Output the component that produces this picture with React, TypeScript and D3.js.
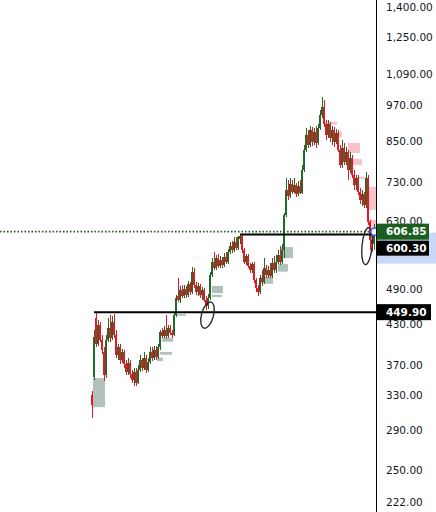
import React from "react";
import * as d3 from "d3";

const opens = [
  331, 354, 440, 399, 429, 406, 388, 356, 406, 424,
  409, 434, 414, 384, 395, 377, 388, 371, 360, 373,
  358, 350, 360, 346, 363, 377, 366, 380, 363, 374,
  388, 380, 391, 381, 395, 418, 412, 421, 412, 424,
  416, 414, 445, 477, 471, 489, 478, 491, 480, 500,
  485, 522, 498, 485, 496, 480, 489, 471, 460, 474,
  517, 542, 530, 550, 534, 546, 536, 552, 542, 563,
  576, 567, 585, 572, 590, 597, 567, 542, 554, 534,
  526, 538, 507, 493, 485, 511, 503, 530, 517, 526,
  515, 540, 526, 542, 557, 542, 567, 646, 709, 694,
  725, 704, 722, 699, 720, 701, 764, 823, 870, 838,
  886, 848, 880, 845, 892, 935, 966, 904, 870, 904,
  861, 886, 848, 877, 823, 778, 829, 786, 817, 764,
  799, 750, 722, 742, 704, 683, 699, 670, 742, 629,
  589, 580,
];
const highs = [
  335, 421, 449.9, 437, 434, 414, 395, 414, 440, 445,
  444, 447, 421, 399, 399, 393, 391, 377, 380, 377,
  363, 366, 366, 370, 384, 380, 388, 384, 380, 395,
  395, 397, 397, 400, 421, 424, 428, 445, 429, 429,
  421, 448, 479, 511, 496, 498, 498, 496, 505, 503,
  532, 530, 503, 502, 500, 494, 493, 478, 481, 522,
  550, 562, 557, 559, 554, 552, 561, 563, 569, 585,
  587, 594, 594, 598, 600.3, 599, 572, 559, 559, 540,
  542, 542, 511, 498, 517, 526, 550, 536, 534, 540,
  550, 554, 557, 567, 576, 580, 651, 741, 736, 741,
  736, 741, 728, 733, 736, 778, 838, 892, 886, 898,
  895, 892, 898, 904, 955, 1000, 991, 920, 920, 913,
  898, 895, 889, 886, 838, 854, 845, 832, 823, 817,
  808, 764, 750, 750, 715, 709, 704, 758, 750, 634,
  598, 624,
];
const lows = [
  304, 350, 395, 396, 403, 385, 348, 352, 403, 403,
  406, 409, 380, 377, 371, 373, 366, 356, 356, 352,
  346, 342, 342, 344, 360, 362, 363, 359, 360, 371,
  375, 377, 377, 378, 391, 409, 409, 407, 409, 414,
  409, 412, 442, 467, 466, 475, 475, 475, 476, 480,
  482, 493, 480, 478, 475, 471, 467, 454, 456, 471,
  513, 526, 526, 530, 530, 530, 532, 538, 538, 559,
  561, 563, 567, 567, 580, 561, 538, 536, 530, 520,
  520, 501, 485, 478, 482, 496, 500, 511, 511, 511,
  511, 520, 520, 538, 536, 538, 550, 640, 683, 688,
  699, 701, 691, 694, 699, 699, 758, 817, 829, 832,
  835, 838, 829, 838, 886, 926, 895, 854, 860, 848,
  838, 832, 841, 817, 770, 770, 778, 778, 736, 756,
  742, 709, 709, 696, 673, 668, 663, 663, 621, 567,
  563, 567,
];
const closes = [
  319, 410, 399, 429, 406, 391, 356, 406, 424, 409,
  434, 414, 384, 395, 377, 388, 371, 360, 373, 358,
  350, 360, 346, 363, 377, 366, 380, 363, 374, 388,
  380, 391, 381, 395, 418, 412, 421, 412, 424, 416,
  414, 445, 474, 471, 489, 478, 491, 480, 500, 485,
  522, 498, 485, 496, 480, 489, 471, 460, 474, 517,
  542, 530, 550, 534, 546, 536, 552, 542, 563, 576,
  567, 585, 572, 594, 597, 567, 542, 554, 534, 526,
  538, 507, 493, 485, 511, 503, 530, 517, 526, 515,
  540, 526, 542, 557, 542, 567, 646, 709, 694, 725,
  704, 722, 699, 720, 701, 764, 823, 870, 838, 886,
  848, 880, 845, 892, 935, 966, 904, 870, 904, 861,
  886, 848, 877, 823, 778, 829, 786, 817, 764, 799,
  750, 722, 742, 704, 683, 699, 670, 742, 629, 589,
  580, 606.85,
];

const tickValues = [222, 250, 290, 330, 370, 430, 490, 550, 630, 730, 850, 970, 1090, 1250, 1400];

// zones: [startIndex, endIndex, upperPrice, lowerPrice]
const grayZones: number[][] = [
  [0.5, 6.5, 352, 316],
  [35, 40.5, 409, 403],
  [34, 40, 388, 384],
  [32.5, 35.5, 380, 375],
  [41.5, 47, 447, 444],
  [60, 65.5, 496, 483],
  [60, 65, 480, 476],
  [94.5, 100.5, 573, 550],
  [93, 98, 538, 523],
  [84.5, 90.5, 513, 500],
];
const pinkZones: number[][] = [
  [116, 122.5, 913, 903],
  [121.5, 125, 880, 863],
  [128, 134, 844, 813],
  [130, 135, 795, 778],
  [132.5, 137.5, 744, 739],
  [138, 143, 717, 658],
  [138.5, 143, 634, 615],
];

// horizontal levels: [startIndex, price]
const levelLines: number[][] = [
  [1, 449.9],
  [74, 600.3],
];
const lastPrice = 606.85;

// ellipse annotations: [index, price]
const ellipses: number[][] = [
  [57.75, 445],
  [137.5, 575],
];

const fmt = d3.format(",.2f");

export default function App() {
  const W = 436;
  const H = 512;
  const axisX = 376;
  const n = closes.length;
  const x = d3.scaleLinear().domain([0, n - 1]).range([92, 374]);
  const y = d3.scaleLog().domain([214, 1436]).range([H, 0]);
  const green = "#1f6b27";
  const red = "#ee1423";
  const font = "'DejaVu Sans', Verdana, sans-serif";

  const ellipseSizes = [
    { rx: 6, ry: 13.5, rot: 15 },
    { rx: 5, ry: 18.5, rot: 5 },
  ];

  const yLast = y(lastPrice);
  const y600 = y(levelLines[1][1]);
  const y449 = y(levelLines[0][1]);

  return (
    <svg
      width={W}
      height={H}
      style={{ position: "absolute", left: 0, top: 0, background: "#fff" }}
    >
      <rect x={0} y={0} width={W} height={H} fill="#fff" />
      {/* zones */}
      {grayZones.map((z, k) => (
        <rect
          key={"g" + k}
          x={x(z[0])}
          y={y(z[2])}
          width={Math.min(x(z[1]), axisX) - x(z[0])}
          height={y(z[3]) - y(z[2])}
          fill="#b3c1bd"
        />
      ))}
      {pinkZones.map((z, k) => (
        <rect
          key={"p" + k}
          x={x(z[0])}
          y={y(z[2])}
          width={Math.min(x(z[1]), axisX) - x(z[0])}
          height={y(z[3]) - y(z[2])}
          fill="#f9c3ca"
        />
      ))}
      {/* candles */}
      <g shapeRendering="crispEdges">
        {closes.map((c, i) => {
          const o = opens[i];
          const px = Math.round(x(i));
          const col = c >= o ? green : red;
          const top = y(Math.max(o, c));
          const bot = y(Math.min(o, c));
          return (
            <g key={i}>
              <rect x={px} y={y(highs[i])} width={1} height={y(lows[i]) - y(highs[i])} fill={col} />
              <rect x={px - 1} y={top} width={2} height={Math.max(1, bot - top)} fill={col} />
            </g>
          );
        })}
      </g>
      {/* level lines */}
      <line x1={0} x2={axisX} y1={yLast} y2={yLast} stroke="#1b5e20" strokeWidth={1.6} strokeDasharray="1.5 2" />
      {levelLines.map((l, k) => (
        <line key={"l" + k} x1={x(l[0])} x2={axisX} y1={y(l[1])} y2={y(l[1])} stroke="#000" strokeWidth={2} />
      ))}
      {/* ellipses */}
      {ellipses.map((e, k) => (
        <ellipse
          key={"e" + k}
          cx={x(e[0])}
          cy={y(e[1])}
          rx={ellipseSizes[k].rx}
          ry={ellipseSizes[k].ry}
          transform={`rotate(${ellipseSizes[k].rot} ${x(e[0])} ${y(e[1])})`}
          fill="none"
          stroke="#2a2a2a"
          strokeWidth={1.4}
        />
      ))}
      <circle cx={x(n - 1) + 0.5} cy={yLast} r={3.6} fill="#fff" stroke="#2962ff" strokeWidth={1.5} />
      {/* axis */}
      <line x1={axisX + 0.5} x2={axisX + 0.5} y1={0} y2={H} stroke="#000" strokeWidth={1} />
      {tickValues.map((t) => (
        <text key={t} x={386} y={y(t)} dy="0.36em" fontFamily={font} fontSize={10.5} fill="#131722">
          {fmt(t)}
        </text>
      ))}
      <rect x={axisX + 1} y={y600 - 2} width={W - axisX - 1} height={31} fill="#c8d8f6" />
      {/* price labels */}
      <rect x={axisX + 1} y={yLast - 8} width={52} height={16} fill="#1b5e20" />
      <text x={386} y={yLast} dy="0.36em" fontFamily={font} fontSize={10.5} fontWeight="bold" fill="#fff">
        {fmt(lastPrice)}
      </text>
      <rect x={axisX + 1} y={yLast + 9} width={52} height={15} fill="#000" />
      <text x={386} y={yLast + 16.5} dy="0.36em" fontFamily={font} fontSize={10.5} fontWeight="bold" fill="#fff">
        {fmt(levelLines[1][1])}
      </text>
      <rect x={axisX + 1} y={y449 - 8} width={54} height={16} fill="#000" />
      <text x={386} y={y449} dy="0.36em" fontFamily={font} fontSize={10.5} fontWeight="bold" fill="#fff">
        {fmt(levelLines[0][1])}
      </text>
    </svg>
  );
}
